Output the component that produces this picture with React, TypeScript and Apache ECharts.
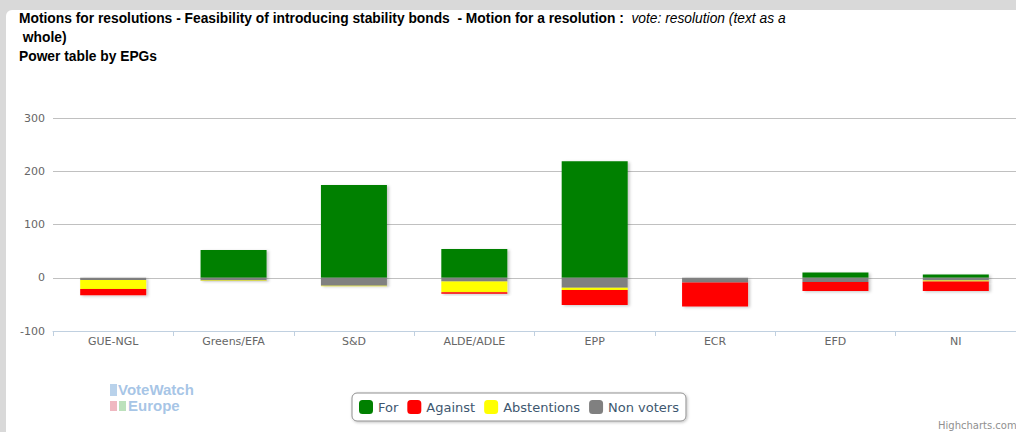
import React, { useEffect, useRef } from "react";
import * as echarts from "echarts";

const categories = ["GUE-NGL", "Greens/EFA", "S&D", "ALDE/ADLE", "EPP", "ECR", "EFD", "NI"];
const forVotes = [0, 52, 174, 54, 219, 0, 10, 6];
const againstVotes = [-12, 0, 0, -3, -28, -45, -17, -18];
const abstentions = [-17, -1, -1, -20, -4, 0, 0, -2];
const nonVoters = [-4, -5, -15, -7, -19, -9, -8, -5];
const yTicks = { min: -100, max: 300, interval: 100 };

const titleLine1 = "Motions for resolutions - Feasibility of introducing stability bonds  - Motion for a resolution :";
const titleItalic = "vote: resolution (text as a";
const titleLine2 = " whole)";
const titleLine3 = "Power table by EPGs";

export default function App() {
  const ref = useRef<HTMLDivElement>(null);
  useEffect(() => {
    if (!ref.current) return;
    const chart = echarts.init(ref.current, null, { renderer: "svg" });
    const shadow = {
      shadowColor: "rgba(0,0,0,0.22)",
      shadowBlur: 3,
      shadowOffsetX: 2,
      shadowOffsetY: 1,
    };
    const mk = (name: string, data: number[], color: string) => ({
      name,
      type: "bar",
      stack: "votes",
      data,
      barWidth: 66,
      itemStyle: { color, ...shadow },
    });
    const tf = "'Liberation Sans', Arial, sans-serif";
    chart.setOption({
      animation: false,
      textStyle: { fontFamily: "DejaVu Sans" },
      grid: { left: 53, top: 118, height: 213, width: 966 },
      xAxis: {
        type: "category",
        data: categories,
        axisLine: { onZero: false, lineStyle: { color: "#C0D0E0", width: 1 } },
        axisTick: { show: true, length: 5, lineStyle: { color: "#C0D0E0" } },
        axisLabel: { color: "#666", fontSize: 11, margin: 5, fontFamily: "DejaVu Sans" },
        splitLine: { show: false },
      },
      yAxis: {
        type: "value",
        min: yTicks.min,
        max: yTicks.max,
        interval: yTicks.interval,
        axisLine: { show: false },
        axisTick: { show: false },
        axisLabel: { color: "#666", fontSize: 11, margin: 8, fontFamily: "DejaVu Sans" },
        splitLine: { lineStyle: { color: "#C0C0C0", width: 1 } },
      },
      legend: {
        data: ["For", "Against", "Abstentions", "Non voters"],
        left: 352,
        top: 393,
        icon: "roundRect",
        itemWidth: 14,
        itemHeight: 14,
        itemGap: 9,
        padding: [7, 7, 7, 7],
        borderColor: "#909090",
        borderWidth: 1,
        borderRadius: 5,
        backgroundColor: "#fff",
        shadowColor: "rgba(0,0,0,0.25)",
        shadowBlur: 3,
        shadowOffsetX: 1,
        shadowOffsetY: 1,
        textStyle: { color: "#3E576F", fontSize: 13, fontFamily: "DejaVu Sans" },
      },
      series: [
        mk("For", forVotes, "#008000"),
        mk("Non voters", nonVoters, "#808080"),
        mk("Abstentions", abstentions, "#FFFF00"),
        mk("Against", againstVotes, "#FF0000"),
      ],
      graphic: [
        {
          type: "text",
          left: 19,
          top: 11,
          style: {
            text: "{b|" + titleLine1 + "}  {i|" + titleItalic + "}",
            font: "bold 13.8px " + tf,
            fill: "#000",
            rich: {
              b: { fontWeight: "bold", fontSize: 13.8, fontFamily: tf, fill: "#000" },
              i: { fontStyle: "italic", fontWeight: "normal", fontSize: 13.8, fontFamily: tf, fill: "#000" },
            },
          },
        },
        {
          type: "text",
          left: 19,
          top: 30,
          style: { text: titleLine2, font: "bold 13.8px " + tf, fill: "#000" },
        },
        {
          type: "text",
          left: 19,
          top: 49,
          style: { text: titleLine3, font: "bold 13.8px " + tf, fill: "#000" },
        },
        {
          type: "text",
          left: 118,
          top: 382,
          style: { text: "VoteWatch", font: "bold 15px " + tf, fill: "#8fb6e0", opacity: 0.8 },
        },
        {
          type: "text",
          left: 128,
          top: 398,
          style: { text: "Europe", font: "bold 15px " + tf, fill: "#8fb6e0", opacity: 0.8 },
        },
        { type: "rect", shape: { x: 110, y: 384, width: 7, height: 12 }, style: { fill: "#9bbfe3", opacity: 0.7 } },
        { type: "rect", shape: { x: 110, y: 401, width: 7, height: 10 }, style: { fill: "#e89aa6", opacity: 0.7 } },
        { type: "rect", shape: { x: 119, y: 401, width: 7, height: 10 }, style: { fill: "#9fd49f", opacity: 0.7 } },
        {
          type: "text",
          left: 938,
          top: 420,
          style: { text: "Highcharts.com", font: "10px 'DejaVu Sans'", fill: "#909090" },
        },
      ],
    });
    return () => chart.dispose();
  }, []);
  return (
    <div style={{ position: "fixed", left: 0, top: 0, width: 1016, height: 432, background: "#d9d9d9", overflow: "hidden" }}>
      <div style={{ position: "absolute", left: 6, top: 10, width: 1030, height: 440, background: "#fff", borderRadius: 6 }} />
      <div ref={ref} style={{ position: "absolute", left: 0, top: 0, width: 1016, height: 432 }} />
    </div>
  );
}
